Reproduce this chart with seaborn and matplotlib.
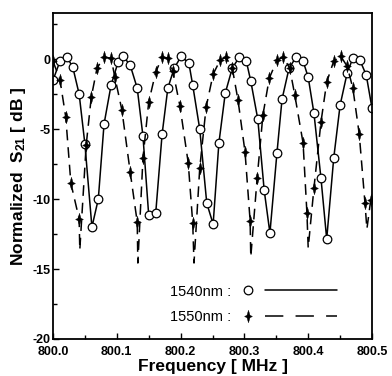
import numpy as np
import pandas as pd
import matplotlib
matplotlib.use("Agg")
import matplotlib.pyplot as plt
import seaborn as sns
from matplotlib.path import Path
from matplotlib.lines import Line2D
from matplotlib.legend_handler import HandlerBase

# ---------------- data ----------------
f1540 = [0.000, 0.011, 0.022, 0.031, 0.041, 0.050, 0.061, 0.071, 0.080, 0.091,
         0.102, 0.110, 0.121, 0.132, 0.141, 0.150, 0.161, 0.171, 0.180, 0.190,
         0.201, 0.213, 0.219, 0.230, 0.241, 0.251, 0.260, 0.270, 0.281, 0.292,
         0.303, 0.310, 0.321, 0.331, 0.340, 0.351, 0.359, 0.370, 0.381, 0.392,
         0.400, 0.409, 0.420, 0.429, 0.440, 0.450, 0.461, 0.470, 0.481, 0.491,
         0.500]
s1540 = [-1.50, -0.14, 0.14, -0.57, -2.50, -6.07, -12.00, -10.00, -4.64, -1.86,
         -0.21, 0.21, -0.43, -2.07, -5.50, -11.14, -11.00, -5.36, -2.07, -0.64,
         0.21, -0.29, -1.86, -5.00, -10.29, -11.79, -6.00, -2.43, -0.64, 0.14,
         -0.14, -1.57, -4.29, -9.36, -12.43, -6.71, -2.86, -0.64, 0.14, -0.14,
         -1.29, -3.86, -8.50, -12.86, -7.07, -3.29, -1.00, 0.07, -0.07, -1.14,
         -3.50]

f1550 = [0.000, 0.011, 0.020, 0.028, 0.041, 0.052, 0.060, 0.069, 0.080, 0.091,
         0.097, 0.108, 0.121, 0.132, 0.141, 0.150, 0.161, 0.171, 0.180, 0.188,
         0.199, 0.212, 0.219, 0.230, 0.240, 0.251, 0.262, 0.271, 0.281, 0.290,
         0.301, 0.309, 0.320, 0.329, 0.339, 0.351, 0.361, 0.371, 0.379, 0.392,
         0.398, 0.409, 0.420, 0.429, 0.440, 0.451, 0.461, 0.470, 0.480, 0.489,
         0.498]
s1550 = [-0.14, -1.50, -4.14, -8.86, -11.43, -6.14, -2.71, -0.64, 0.14, 0.07,
         -1.29, -3.64, -8.07, -11.64, -7.07, -3.07, -0.93, 0.14, 0.07, -0.86,
         -3.36, -7.43, -11.71, -7.79, -3.43, -1.07, -0.07, 0.14, -0.64, -2.93,
         -6.64, -11.57, -8.50, -4.00, -1.36, -0.07, 0.14, -0.64, -2.57, -6.00,
         -11.00, -9.21, -4.50, -1.64, -0.14, 0.21, -0.50, -2.07, -5.36, -10.29,
         -10.07]
# dips of the dashed 1550 nm curve (curve only, no markers)
f1550_dip = [0.042, 0.133, 0.221, 0.310, 0.400, 0.492]
s1550_dip = [-13.64, -14.57, -14.57, -14.14, -13.50, -12.14]

base_freq = 800.0
x_ticks = [800.0, 800.1, 800.2, 800.3, 800.4, 800.5]
x_ticklabels = ["800.0", "800.1", "800.2", "800.3", "800.4", "800.5"]
y_ticks = [0, -5, -10, -15, -20]
y_ticklabels = ["0", "-5", "-10", "-15", "-20"]
legend_labels = ["1540nm :", "1550nm :"]

# ---------------- frames ----------------
d1540 = pd.DataFrame({"f": base_freq + np.array(f1540), "s": s1540})
d1550 = pd.DataFrame({"f": base_freq + np.array(f1550), "s": s1550})
d1550_curve = pd.concat([
    d1550,
    pd.DataFrame({"f": base_freq + np.array(f1550_dip), "s": s1550_dip}),
]).sort_values("f")

sns.set_theme(style="ticks")
plt.rcParams["font.family"] = ["Liberation Sans", "DejaVu Sans"]
plt.rcParams["mathtext.fontset"] = "custom"
plt.rcParams["mathtext.rm"] = "Liberation Sans:bold"
plt.rcParams["mathtext.bf"] = "Liberation Sans:bold"
plt.rcParams["mathtext.it"] = "Liberation Sans:bold"
for key in ["text.color", "axes.labelcolor", "xtick.color", "ytick.color",
            "axes.edgecolor"]:
    plt.rcParams[key] = "black"

fig = plt.figure(figsize=(3.92, 3.76), dpi=100)
ax = fig.add_axes([53 / 392, 37 / 376, (372 - 53) / 392, (339 - 13) / 376])

# star-like marker for 1550 nm
star = Path([(0, 1.6), (0.38, 0.32), (1.0, 0), (0.38, -0.32), (0, -1.6),
             (-0.38, -0.32), (-1.0, 0), (-0.38, 0.32), (0, 1.6)],
            [Path.MOVETO] + [Path.LINETO] * 7 + [Path.CLOSEPOLY])

solid_style = "-"
plot_dash = (0, (7, 4.5))
legend_dash = (0, (12, 8))

sns.lineplot(data=d1540, x="f", y="s", color="black", lw=1.1, ax=ax,
             estimator=None, sort=False)
sns.lineplot(data=d1540, x="f", y="s", color="black", lw=0, ax=ax,
             estimator=None, sort=False, marker="o", markersize=6.2,
             markerfacecolor="white", markeredgecolor="black",
             markeredgewidth=0.9, linestyle="")
sns.lineplot(data=d1550_curve, x="f", y="s", color="black", lw=1.1, ax=ax,
             estimator=None, sort=False, dashes=False, linestyle=plot_dash)
sns.lineplot(data=d1550, x="f", y="s", color="black", lw=0, ax=ax,
             estimator=None, sort=False, marker=star, markersize=9,
             markerfacecolor="black", markeredgecolor="black",
             markeredgewidth=0.3, linestyle="")

tick_font = {"family": ["Liberation Sans Narrow", "Liberation Sans", "DejaVu Sans"],
             "size": 9, "weight": "bold", "color": "black"}
ax.set_xlim(800.0, 800.5)
ax.set_ylim(-20, 3.3)
ax.set_xticks(x_ticks)
ax.set_xticklabels(x_ticklabels, fontdict=tick_font)
ax.set_yticks(y_ticks)
ax.set_yticklabels(y_ticklabels, fontdict=tick_font)
ax.set_xticks(np.arange(800.05, 800.5, 0.1), minor=True)
ax.set_yticks(np.arange(-17.5, 3, 5), minor=True)
ax.tick_params(which="both", direction="in", color="black", width=1)
ax.tick_params(which="major", length=4)
ax.tick_params(axis="x", which="major", pad=5)
ax.tick_params(axis="y", which="major", pad=2)
ax.tick_params(which="minor", length=3)
for sp in ax.spines.values():
    sp.set_linewidth(1.3)
    sp.set_color("black")

ax.set_xlabel("Frequency [ MHz ]", fontsize=12.5, fontweight="bold", labelpad=1,
              color="black")
ax.set_ylabel("Normalized  S$_{21}$ [ dB ]", fontsize=12.5, fontweight="bold",
              labelpad=3, color="black")


class MarkerThenLine(HandlerBase):
    def __init__(self, linestyle, **kw):
        super().__init__(**kw)
        self._ls = linestyle

    def create_artists(self, legend, orig_handle, xdescent, ydescent, width,
                       height, fontsize, trans):
        y = height / 2 - ydescent
        m = Line2D([-xdescent + 0.1 * width], [y], linestyle="",
                   marker=orig_handle.get_marker(),
                   markersize=orig_handle.get_markersize(),
                   markerfacecolor=orig_handle.get_markerfacecolor(),
                   markeredgecolor="black",
                   markeredgewidth=orig_handle.get_markeredgewidth(),
                   transform=trans)
        ln = Line2D([-xdescent + 0.27 * width, -xdescent + width], [y, y],
                    color="black", lw=orig_handle.get_linewidth(),
                    linestyle=self._ls, transform=trans)
        return [ln, m]


h1 = Line2D([], [], color="black", lw=1.1, marker="o", markersize=6.2,
            markerfacecolor="white", markeredgewidth=0.9)
h2 = Line2D([], [], color="black", lw=1.1, marker=star, markersize=9,
            markerfacecolor="black", markeredgewidth=0.3)
leg = ax.legend([h1, h2], legend_labels, loc="lower right",
                bbox_to_anchor=(0.932, 0.005), frameon=False, markerfirst=False,
                handlelength=6.8, handletextpad=0.5, labelspacing=0.8,
                prop={"size": 10.5}, labelcolor="black",
                handler_map={h1: MarkerThenLine(solid_style),
                             h2: MarkerThenLine(legend_dash)})

fig.savefig("out.png", dpi=100)
